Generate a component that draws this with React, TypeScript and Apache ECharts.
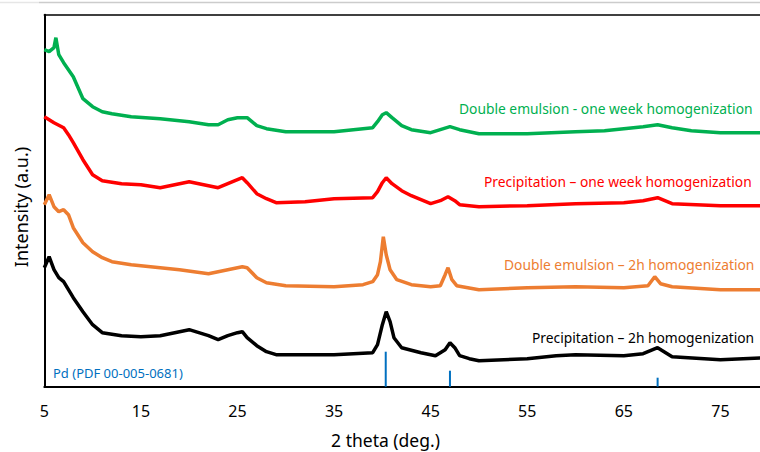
import React, { useEffect, useRef } from "react";
import * as echarts from "echarts";

// 2 theta tick labels
const xTickValues = [5, 15, 25, 35, 45, 55, 65, 75];

// Double emulsion - one week homogenization (green)
const deWeekX = [5, 5.5, 6, 6.2, 6.5, 7, 8, 9, 10, 11, 12, 14, 17, 20, 22, 23, 24, 25, 26, 27, 28, 30, 35, 37, 39, 39.5, 40, 40.4, 41, 42, 43, 45, 46, 47, 48, 50, 55, 60, 63, 65, 67, 68.5, 70, 72, 75, 80];
const deWeekY = [337, 335, 339, 349, 332, 324, 310, 288, 280, 275, 273, 270, 268, 265, 262, 262, 267, 269, 269, 261, 258, 255, 255, 257, 259, 265, 272, 274, 269, 261, 257, 254, 257, 260, 257, 253, 253, 255, 256, 258, 260, 262, 259, 256, 254, 254];

// Precipitation - one week homogenization (red)
const prWeekX = [5, 6, 7, 7.5, 8, 9, 10, 11, 13, 15, 17, 19, 20, 22, 23, 24, 25, 25.5, 26, 27, 28, 29, 32, 35, 39, 39.5, 40, 40.4, 41, 42, 43, 44, 45, 46, 46.8, 47.5, 48, 50, 55, 60, 65, 67, 68.5, 70, 75, 80];
const prWeekY = [270, 264, 259, 252, 244, 227, 212, 206, 203, 202, 199, 203, 205, 201, 199, 203, 207, 209, 204, 193, 188, 184, 185, 188, 189, 195, 204, 209, 203, 196, 191, 187, 183, 186, 190, 186, 182, 180, 181, 183, 184, 186, 189, 183, 181, 181];

// Double emulsion - 2h homogenization (orange)
const de2hX = [5, 5.5, 6, 6.5, 7, 7.5, 8, 9, 10, 11, 12, 14, 16, 19, 22, 24, 25.5, 26, 27, 28, 30, 35, 38, 39, 39.5, 39.8, 40.1, 40.4, 40.8, 41.5, 43, 45, 46, 46.5, 46.8, 47.2, 47.7, 50, 55, 60, 65, 67.5, 68.2, 68.8, 70, 75, 80];
const de2hY = [182, 192, 180, 175, 177, 172, 159, 144, 135, 129, 125, 122, 120, 117, 113, 117, 120, 119, 109, 104, 101, 100, 102, 105, 112, 125, 150, 132, 117, 107, 102, 100, 101, 112, 119, 107, 101, 97, 99, 100, 99, 101, 110, 103, 100, 97, 97];

// Precipitation - 2h homogenization (black)
const pr2hX = [5, 5.5, 6, 6.5, 7, 8, 9, 10, 11, 13, 15, 17, 19, 20, 22, 23, 24, 25, 25.5, 26, 27, 28, 29, 35, 39, 39.5, 40, 40.4, 40.8, 41.2, 42, 44, 45.5, 46.5, 47, 47.5, 48, 49, 50, 55, 58, 60, 65, 67, 68.5, 69.5, 70, 75, 80];
const pr2hY = [119, 130, 117, 109, 105, 89, 75, 62, 54, 51, 50, 51, 55, 57, 51, 47, 51, 54, 55, 49, 41, 35, 32, 32, 34, 42, 62, 75, 65, 49, 39, 34, 31, 37, 44, 39, 31, 28, 26, 28, 31, 32, 31, 33, 39, 33, 30, 27, 29];

// Pd reference lines (PDF 00-005-0681)
const pdRefX = [40.35, 47.0, 68.5];
const pdRefY = [35, 16, 9];

const FONT = '"Noto Sans", sans-serif';
const X_MIN = 5;
const X_MAX_VISIBLE = 79.1;

export default function App() {
  const ref = useRef<HTMLDivElement>(null);
  useEffect(() => {
    const chart = echarts.init(ref.current as HTMLDivElement, null, { renderer: "svg" });
    const zip = (xs: number[], ys: number[]) => xs.map((x, i) => [x, ys[i]]);
    const line = (name: string, xs: number[], ys: number[], color: string) => ({
      name,
      type: "line",
      data: zip(xs, ys),
      showSymbol: false,
      symbol: "none",
      clip: true,
      lineStyle: { color, width: 3.5 },
      itemStyle: { color },
      z: 3,
    });
    chart.setOption({
      animation: false,
      backgroundColor: "#ffffff",
      grid: { left: 44.3, top: 14.7, right: 0, height: 372 },
      xAxis: [
        {
          type: "value",
          min: X_MIN,
          max: X_MAX_VISIBLE,
          interval: 10,
          axisLine: { show: true, lineStyle: { color: "#000000", width: 2 } },
          axisTick: { show: false },
          splitLine: { show: false },
          axisLabel: {
            color: "#000000",
            fontSize: 16,
            fontFamily: FONT,
            margin: 16,
            showMaxLabel: false,
            formatter: (v: number) => (xTickValues.includes(v) ? String(v) : ""),
          },
        },
        {
          type: "value",
          position: "top",
          min: X_MIN,
          max: X_MAX_VISIBLE,
          axisLine: { show: true, lineStyle: { color: "#000000", width: 1.5 } },
          axisTick: { show: false },
          axisLabel: { show: false },
          splitLine: { show: false },
        },
      ],
      yAxis: {
        type: "value",
        min: 0,
        max: 372,
        axisLine: { show: true, lineStyle: { color: "#000000", width: 2 } },
        axisTick: { show: false },
        axisLabel: { show: false },
        splitLine: { show: false },
      },
      series: [
        line("Double emulsion - one week homogenization", deWeekX, deWeekY, "#00B050"),
        line("Precipitation – one week homogenization", prWeekX, prWeekY, "#FF0000"),
        line("Double emulsion – 2h homogenization", de2hX, de2hY, "#ED7D31"),
        line("Precipitation – 2h homogenization", pr2hX, pr2hY, "#000000"),
        {
          name: "Pd (PDF 00-005-0681)",
          type: "bar",
          data: zip(pdRefX, pdRefY),
          barWidth: 2,
          itemStyle: { color: "#0070C0" },
          z: 2,
        },
      ],
      graphic: [
        { type: "line", shape: { x1: 0, y1: 2.5, x2: 39, y2: 2.5 }, style: { stroke: "#e6e6e6", lineWidth: 1.5 } },
        { type: "line", shape: { x1: 39, y1: 2.5, x2: 760, y2: 2.5 }, style: { stroke: "#cccccc", lineWidth: 1.5 } },
        { type: "text", x: 459, y: 108, style: { text: "Double emulsion - one week homogenization", fill: "#00B050", fontSize: 13.8, fontFamily: FONT, verticalAlign: "middle" } },
        { type: "text", x: 484, y: 181, style: { text: "Precipitation – one week homogenization", fill: "#FF0000", fontSize: 13.8, fontFamily: FONT, verticalAlign: "middle" } },
        { type: "text", x: 504, y: 264, style: { text: "Double emulsion – 2h homogenization", fill: "#ED7D31", fontSize: 13.8, fontFamily: FONT, verticalAlign: "middle" } },
        { type: "text", x: 532, y: 337, style: { text: "Precipitation – 2h homogenization", fill: "#000000", fontSize: 13.8, fontFamily: FONT, verticalAlign: "middle" } },
        { type: "text", x: 53, y: 373, style: { text: "Pd (PDF 00-005-0681)", fill: "#0070C0", fontSize: 13, fontFamily: FONT, verticalAlign: "middle" } },
        { type: "text", x: 385.5, y: 440, style: { text: "2 theta (deg.)", fill: "#000000", fontSize: 17.5, fontFamily: FONT, align: "center", verticalAlign: "middle" } },
        { type: "text", x: 21, y: 207, rotation: Math.PI / 2, style: { text: "Intensity (a.u.)", fill: "#000000", fontSize: 18, fontFamily: FONT, align: "center", verticalAlign: "middle" } },
      ],
    });
    return () => chart.dispose();
  }, []);
  return <div ref={ref} style={{ position: "fixed", left: 0, top: 0, width: 760, height: 452 }} />;
}
